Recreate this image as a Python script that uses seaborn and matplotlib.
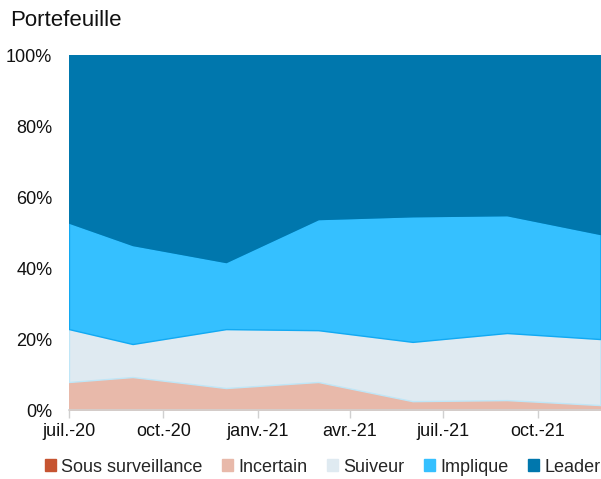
import matplotlib
matplotlib.use("Agg")
import matplotlib.pyplot as plt
from matplotlib.patches import Patch
import seaborn as sns
import pandas as pd
import numpy as np

dates = ["2020-07-01", "2020-09-01", "2020-12-01", "2021-03-01", "2021-06-01", "2021-09-01", "2021-12-01"]
sous_surveillance = [0.0, 0.0, 0.0, 0.0, 0.0, 0.0, 0.0]
incertain = [7.9, 9.3, 6.2, 7.9, 2.5, 2.8, 1.4]
suiveur = [14.9, 9.3, 16.6, 14.6, 16.7, 18.9, 18.6]
implique = [30.0, 27.9, 18.9, 31.3, 35.4, 33.2, 29.6]
leader = [47.2, 53.5, 58.3, 46.2, 45.4, 45.1, 50.4]

series_names = ["Sous surveillance", "Incertain", "Suiveur", "Implique", "Leader"]
colors = ["#C65431", "#E8B9AA", "#DFEAF1", "#35C0FF", "#0077AD"]
edges = ["#C65431", "#E8B9AA", "#BFE6F7", "#12A9F2", "#0077AD"]
tick_months = ["2020-07-01", "2020-10-01", "2021-01-01", "2021-04-01", "2021-07-01", "2021-10-01"]
tick_labels = ["juil.-20", "oct.-20", "janv.-21", "avr.-21", "juil.-21", "oct.-21"]

df = pd.DataFrame({"date": pd.to_datetime(dates),
                   "Sous surveillance": sous_surveillance, "Incertain": incertain,
                   "Suiveur": suiveur, "Implique": implique, "Leader": leader})
vals = df[series_names].to_numpy().T
vals = vals / vals.sum(axis=0) * 100

sns.set_theme(style="white")
plt.rcParams["font.family"] = ["Liberation Sans", "DejaVu Sans"]

fig = plt.figure(figsize=(6.01, 4.79), dpi=100)
ax = fig.add_axes([0.1148, 0.144, 0.884, 0.741])

polys = ax.stackplot(df["date"], vals, colors=colors)
for p, ec in zip(polys, edges):
    p.set_edgecolor(ec)
    p.set_linewidth(1.0)

ax.set_xlim(pd.Timestamp("2020-07-01"), pd.Timestamp("2021-12-01"))
ax.set_ylim(0, 100)
ax.set_yticks([0, 20, 40, 60, 80, 100])
ax.set_yticklabels([f"{v}%" for v in [0, 20, 40, 60, 80, 100]], fontsize=13, color="#111111")
ax.set_xticks(pd.to_datetime(tick_months))
ax.set_xticklabels(tick_labels, fontsize=13, color="#111111")
ax.tick_params(axis="y", length=0, pad=12)
ax.tick_params(axis="x", length=6, width=1, color="#D0D0D0", pad=3, direction="out", bottom=True)

for s in ["top", "right", "left"]:
    ax.spines[s].set_visible(False)
ax.spines["bottom"].set_color("#D0D0D0")
ax.spines["bottom"].set_linewidth(1.2)
ax.set_xlabel("")
ax.set_ylabel("")

fig.text(0.017, 0.957, "Portefeuille", fontsize=16, color="#111111", va="center", ha="left")

handles = [Patch(facecolor=c, edgecolor=c) for c in colors]
fig.legend(handles, series_names, loc="center", bbox_to_anchor=(0.537, 0.025),
           ncol=5, frameon=False, fontsize=13, handlelength=0.6, handleheight=0.6,
           handletextpad=0.3, columnspacing=1.08, borderaxespad=0)

fig.savefig("out.png", dpi=100)
